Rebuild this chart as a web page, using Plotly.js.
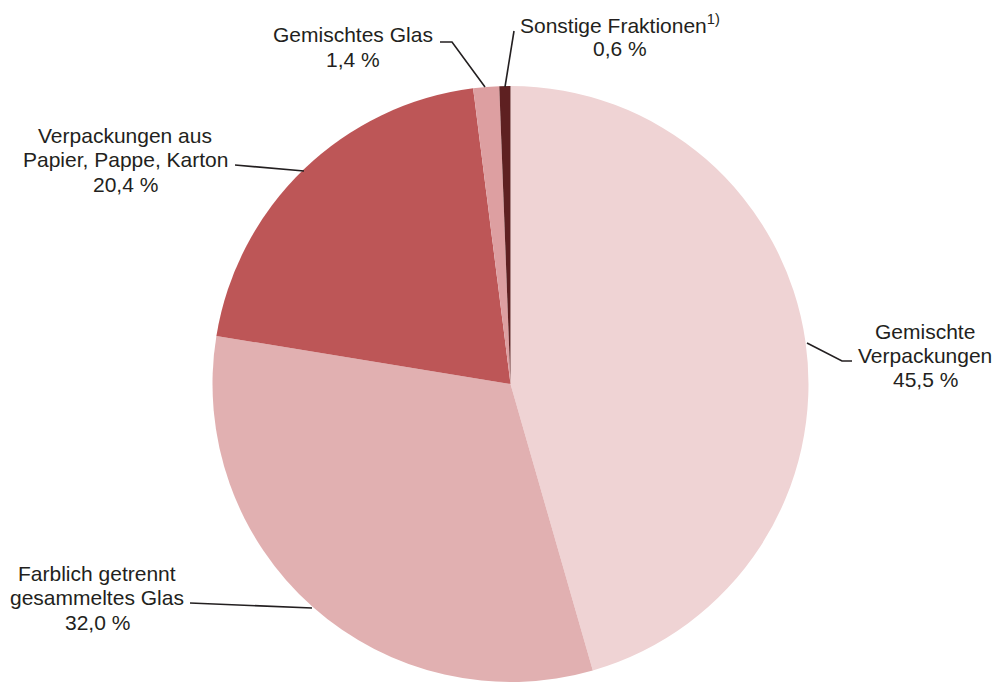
<!DOCTYPE html>
<html>
<head>
<meta charset="utf-8">
<script src="https://cdn.plot.ly/plotly-3.0.1.min.js"></script>
<style>html,body{margin:0;padding:0;background:#fff;}#chart{width:999px;height:682px;}</style>
</head>
<body>
<div id="chart"></div>
<script>
// ---- data ----
const categories = [
  "Gemischte Verpackungen",
  "Farblich getrennt gesammeltes Glas",
  "Verpackungen aus Papier, Pappe, Karton",
  "Gemischtes Glas",
  "Sonstige Fraktionen"
];
const shares = [45.5, 32.0, 20.4, 1.4, 0.6];
const labelLines = [
  ["Gemischte", "Verpackungen", "45,5 %"],
  ["Farblich getrennt", "gesammeltes Glas", "32,0 %"],
  ["Verpackungen aus", "Papier, Pappe, Karton", "20,4 %"],
  ["Gemischtes Glas", "1,4 %"],
  ["Sonstige Fraktionen<sup>1)</sup>", "0,6 %"]
];
const sliceColors = ["#efd3d4", "#e1b0b1", "#bd5657", "#dd9fa1", "#5e2021"];

// ---- layout helpers (pixel -> paper) ----
const W = 999, H = 682;
const px = x => x / W;
const py = y => 1 - y / H;
const LINE_GAP = 24.5;

// label block: center x, first line center y (pixels)
const labelPos = [
  [925, 331],
  [97, 573],
  [125, 135],
  [353, 35],
  [620, 24]
];
// leader lines (pixel polylines)
const leaders = [
  [[807, 343], [842, 361], [852, 361]],
  [[190, 603], [312, 608]],
  [[235, 165], [304, 171]],
  [[440, 42], [452, 42], [485, 87]],
  [[514, 31], [505, 87]]
];

const annotations = [];
labelLines.forEach((lines, i) => {
  lines.forEach((t, j) => {
    annotations.push({
      text: t,
      xref: "paper", yref: "paper",
      x: px(labelPos[i][0]), y: py(labelPos[i][1] + j * LINE_GAP),
      xanchor: "center", yanchor: "middle",
      showarrow: false,
      align: "center",
      font: {family: "'Liberation Sans', Arial, sans-serif", size: 21, color: "#231f20"}
    });
  });
});

const shapes = leaders.map(pts => ({
  type: "path",
  xref: "paper", yref: "paper",
  path: pts.map((p, j) => (j ? "L" : "M") + px(p[0]) + "," + py(p[1])).join(" "),
  line: {color: "#231f20", width: 1.6}
}));

const trace = {
  type: "pie",
  labels: categories,
  values: shares,
  sort: false,
  direction: "clockwise",
  rotation: 0,
  textinfo: "none",
  hoverinfo: "label+percent",
  marker: {colors: sliceColors, line: {color: "#ffffff", width: 0}},
  domain: {x: [212.5 / W, 808.5 / W], y: [0, 596 / H]},
  showlegend: false
};

const layout = {
  width: W, height: H,
  margin: {l: 0, r: 0, t: 0, b: 0},
  paper_bgcolor: "#ffffff",
  plot_bgcolor: "#ffffff",
  showlegend: false,
  annotations: annotations,
  shapes: shapes
};

Plotly.newPlot("chart", [trace], layout, {displayModeBar: false, staticPlot: true});
</script>
</body>
</html>
